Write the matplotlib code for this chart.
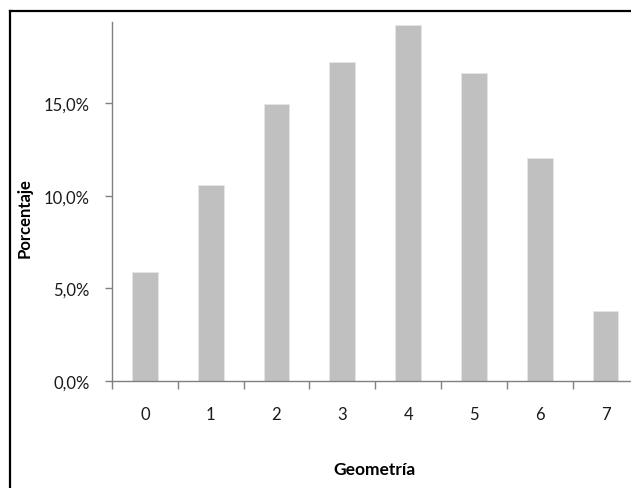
import numpy as np
import matplotlib.pyplot as plt
from matplotlib.lines import Line2D
from matplotlib.ticker import FuncFormatter

# data
categorias = ["0", "1", "2", "3", "4", "5", "6", "7"]
porcentajes = [0.059, 0.1056, 0.1493, 0.1723, 0.1923, 0.1664, 0.1205, 0.0379]
yticks = [0.0, 0.05, 0.10, 0.15]

plt.rcParams['font.family'] = ['Lato', 'DejaVu Sans']

fig = plt.figure(figsize=(6.31, 4.89), dpi=100)
ax = fig.add_axes([112/631, 1-382/489, (638.4-112)/631, (382-23)/489])

x = np.arange(len(categorias))
ax.bar(x, porcentajes, width=0.39, color="#c0c0c0", edgecolor="#e6e6e6", linewidth=0.6)

ax.set_xlim(-0.5, len(categorias)-0.5)
ax.set_ylim(0, 0.1937)
ax.set_yticks(yticks)
ax.yaxis.set_major_formatter(FuncFormatter(lambda v, p: ("%.1f%%" % (v*100)).replace(".", ",")))

# category labels centred, tick marks at the boundaries
ax.set_xticks(x)
ax.set_xticklabels(categorias)
ax.set_xticks(np.arange(-0.5, len(categorias)), minor=True)
ax.tick_params(axis="x", which="major", length=0, pad=18, labelsize=12, labelcolor="#1a1a1a")
ax.tick_params(axis="x", which="minor", length=6, width=1, color="#808080", direction="out")
ax.tick_params(axis="y", length=5, width=1, color="#808080", pad=11, labelsize=12, labelcolor="#1a1a1a")

for s in ["top", "right"]:
    ax.spines[s].set_visible(False)
for s in ["left", "bottom"]:
    ax.spines[s].set_color("#808080")
    ax.spines[s].set_linewidth(1)

fig.text(375/631, 1-470/489, "Geometría", ha="center", va="center", fontsize=12.5, fontweight="bold")
fig.text(25/631, 1-218/489, "Porcentaje", ha="center", va="center", rotation=90, fontsize=12, fontweight="bold")

# outer frame (only left and top edges visible)
fig.add_artist(Line2D([10/631, 10/631], [0, 1-12/489], color="black", linewidth=1.6, transform=fig.transFigure))
fig.add_artist(Line2D([10/631, 1], [1-12/489, 1-12/489], color="black", linewidth=1.6, transform=fig.transFigure))

fig.savefig("out.png", dpi=100)
